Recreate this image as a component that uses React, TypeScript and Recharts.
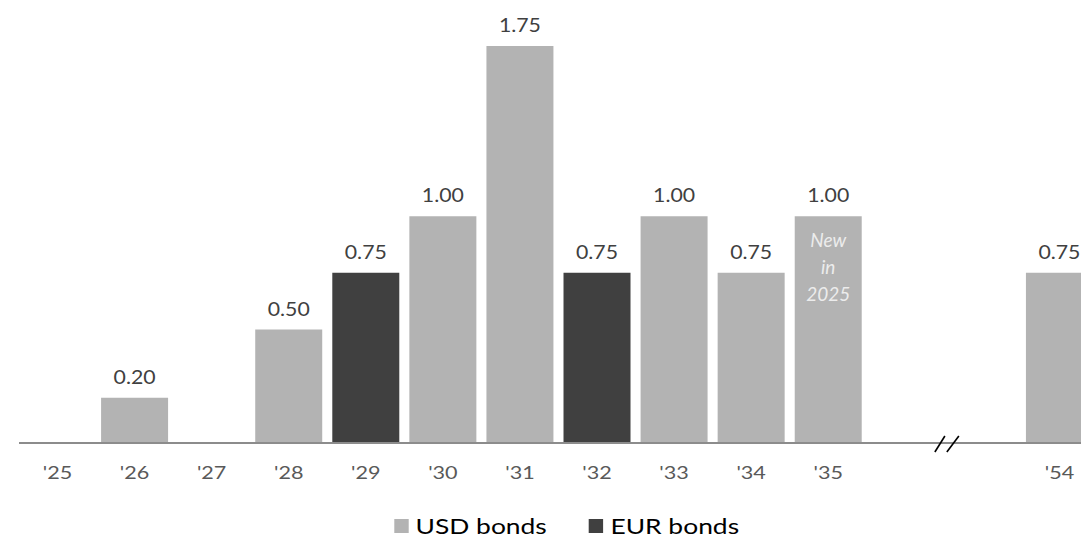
import { Bar, BarChart, LabelList, Legend, XAxis, YAxis } from 'recharts';

const years = ["'25", "'26", "'27", "'28", "'29", "'30", "'31", "'32", "'33", "'34", "'35", '', '', "'54"];
const usdBonds = [null, 0.2, null, 0.5, null, 1.0, 1.75, null, 1.0, 0.75, 1.0, null, null, 0.75];
const eurBonds = [null, null, null, null, 0.75, null, null, 0.75, null, null, null, null, null, null];
const notes = [null, null, null, null, null, null, null, null, null, null, 'New|in|2025', null, null, null];
// the axis is broken between the two empty slots before '54
const breakAfter = 11;

const series = [
  { key: 'usd', name: 'USD bonds', color: '#b3b3b3' },
  { key: 'eur', name: 'EUR bonds', color: '#404040' },
];

const data = years.map((year, i) => ({
  slot: `s${i}`,
  year,
  usd: usdBonds[i],
  eur: eurBonds[i],
  note: notes[i],
}));

// the source chart's text is a little wider than Lato, so stretch it
const stretch = 1.2;

function YearTick(props: any) {
  const { x, y, payload } = props;
  const i = payload.index;
  const half = payload.offset ?? 38.5;
  const bx = x + half + 3;
  return (
    <g>
      <text transform={`translate(${x} ${y + 36}) scale(${stretch} 1)`} textAnchor="middle" fill="#595959" fontSize={18}>
        {data[i]?.year}
      </text>
      {i === breakAfter && (
        <g stroke="#000" strokeWidth={1.6}>
          <line x1={bx - 12} y1={y + 9} x2={bx - 2} y2={y - 7} />
          <line x1={bx} y1={y + 9} x2={bx + 12} y2={y - 7} />
        </g>
      )}
    </g>
  );
}

function ValueLabel(props: any) {
  const { x, y, width, value } = props;
  if (value == null) return null;
  return (
    <text transform={`translate(${x + width / 2} ${y - 14}) scale(1.15 1)`} textAnchor="middle" fill="#404040" fontSize={18.5}>
      {Number(value).toFixed(2)}
    </text>
  );
}

function NoteLabel(props: any) {
  const { x, y, width, value } = props;
  if (!value) return null;
  const cx = x + width / 2;
  return (
    <text x={cx} y={y + 31} textAnchor="middle" fill="#ececec" fontSize={19} fontStyle="italic">
      {String(value).split('|').map((line, k) => (
        <tspan key={k} x={cx} dy={k === 0 ? 0 : 27}>
          {line}
        </tspan>
      ))}
    </text>
  );
}

function LegendContent() {
  return (
    <div style={{ display: 'flex', justifyContent: 'center', paddingTop: 15, transform: `scaleX(${stretch})` }}>
      <div style={{ display: 'flex', gap: 35, fontSize: 22, color: '#000', lineHeight: '26px' }}>
        {series.map((s) => (
          <span key={s.key} style={{ display: 'flex', alignItems: 'center' }}>
            <span style={{ display: 'inline-block', width: 12, height: 14, background: s.color, marginRight: 6 }} />
            {s.name}
          </span>
        ))}
      </div>
    </div>
  );
}

export default function App() {
  return (
    <div style={{ position: 'fixed', left: 0, top: 0, width: 1081, height: 538, overflow: 'hidden', background: '#fff', fontFamily: 'Lato, sans-serif' }}>
      <BarChart width={1133} height={538} data={data} margin={{ top: 46, right: 35, bottom: 0, left: 19 }} barCategoryGap="6.5%">
        <XAxis
          dataKey="slot"
          tick={<YearTick />}
          tickLine={false}
          tickSize={0}
          tickMargin={0}
          interval={0}
          height={55}
          axisLine={{ stroke: '#8c8c8c', strokeWidth: 2 }}
        />
        <YAxis hide domain={[0, 1.75]} />
        <Legend verticalAlign="bottom" height={40} wrapperStyle={{ left: 0, width: 1133, height: 40 }} content={<LegendContent />} />
        <Bar dataKey="usd" name="USD bonds" stackId="a" fill="#b3b3b3" isAnimationActive={false}>
          <LabelList dataKey="usd" content={<ValueLabel />} />
          <LabelList dataKey="note" content={<NoteLabel />} />
        </Bar>
        <Bar dataKey="eur" name="EUR bonds" stackId="a" fill="#404040" isAnimationActive={false}>
          <LabelList dataKey="eur" content={<ValueLabel />} />
        </Bar>
      </BarChart>
    </div>
  );
}
